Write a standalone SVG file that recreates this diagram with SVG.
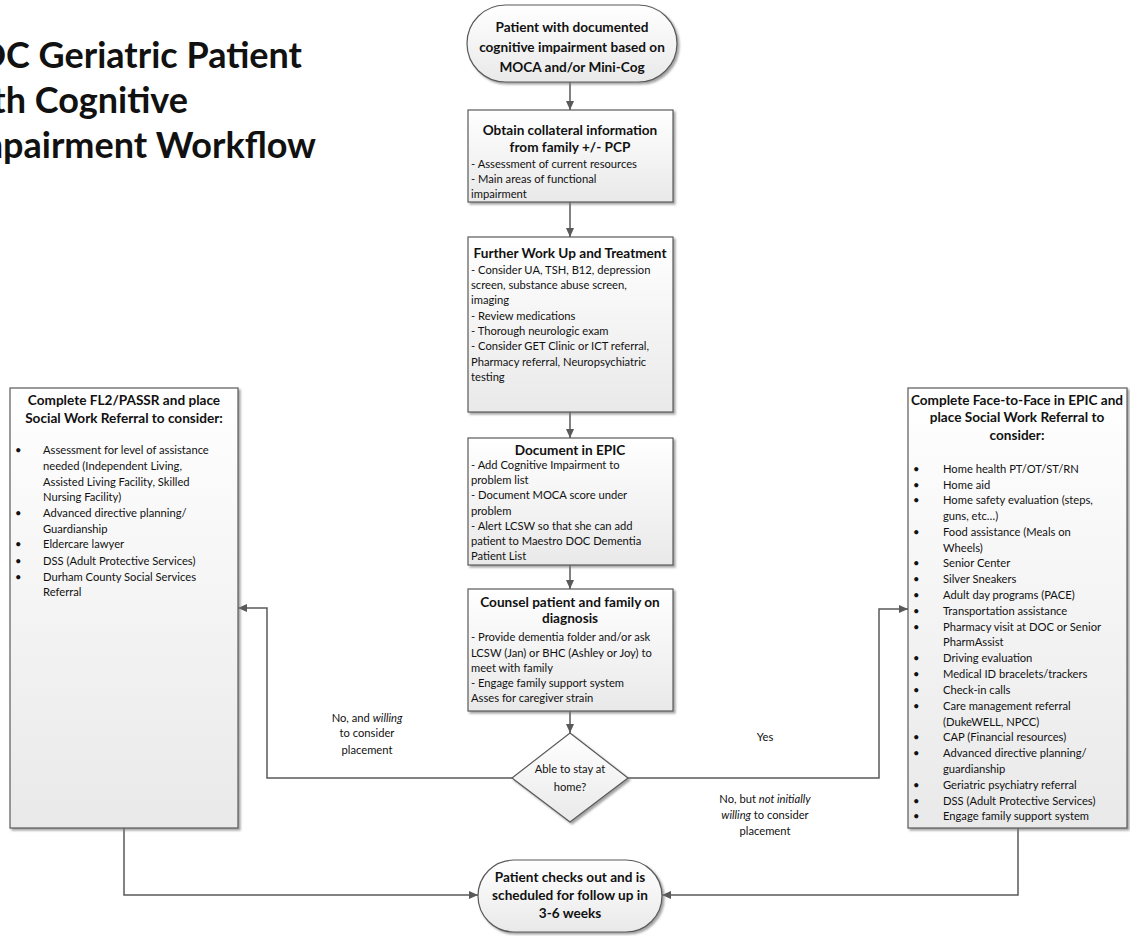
<svg xmlns="http://www.w3.org/2000/svg" width="1130" height="936" viewBox="0 0 1130 936">
<defs>
<linearGradient id="g" x1="0" y1="0" x2="0" y2="1">
<stop offset="0" stop-color="#ffffff"/>
<stop offset="1" stop-color="#e9e9e9"/>
</linearGradient>
<filter id="sh" x="-5%" y="-5%" width="115%" height="115%">
<feDropShadow dx="2" dy="2" stdDeviation="1" flood-color="#7a7a7a" flood-opacity="0.7"/>
</filter>
<marker id="ah" markerWidth="10" markerHeight="10" refX="9" refY="5" orient="auto" markerUnits="userSpaceOnUse">
<path d="M0,1 L9,5 L0,9 Z" fill="#595959"/>
</marker>
<style>
.shape{fill:url(#g);stroke:#5a5a5a;stroke-width:1.2;filter:url(#sh)}
.t{font-family:Lato,"Liberation Sans",sans-serif;fill:#111}
.h{font-size:13.6px;font-weight:bold;text-anchor:middle}
.b{font-size:11.2px}
.c{font-size:11.2px;text-anchor:middle}
.big{font-size:36px;font-weight:bold;text-anchor:end}
.con{fill:none;stroke:#595959;stroke-width:1.5}
.i{font-style:italic}
</style>
</defs>
<rect width="1130" height="936" fill="#ffffff"/>

<g id="title" class="t">
<text class="big t" x="302" y="68">DOC Geriatric Patient</text>
<text class="big t" x="188" y="113">with Cognitive</text>
<text class="big t" x="316" y="158">Impairment Workflow</text>
</g>

<g id="connectors">
<line class="con" x1="570" y1="82" x2="570" y2="110" marker-end="url(#ah)"/>
<line class="con" x1="570" y1="202" x2="570" y2="237" marker-end="url(#ah)"/>
<line class="con" x1="570" y1="412" x2="570" y2="438" marker-end="url(#ah)"/>
<line class="con" x1="570" y1="565" x2="570" y2="589" marker-end="url(#ah)"/>
<line class="con" x1="570" y1="711" x2="570" y2="733" marker-end="url(#ah)"/>
<polyline class="con" points="512,778 267,778 267,608 238,608" marker-end="url(#ah)"/>
<polyline class="con" points="628,778 879,778 879,609 908,609" marker-end="url(#ah)"/>
<polyline class="con" points="124,828 124,895 478,895" marker-end="url(#ah)"/>
<polyline class="con" points="1018,828 1018,895 662,895" marker-end="url(#ah)"/>
</g>

<g id="start">
<rect class="shape" x="467" y="5" width="210" height="77" rx="38.5"/>
<text class="t h" x="572" y="32">Patient with documented</text>
<text class="t h" x="572" y="52">cognitive impairment based on</text>
<text class="t h" x="572" y="72">MOCA and/or Mini-Cog</text>
</g>

<g id="collateral">
<rect class="shape" x="468" y="110" width="205" height="92"/>
<text class="t h" x="570" y="135">Obtain collateral information</text>
<text class="t h" x="570" y="152">from family +/- PCP</text>
<text class="t b" x="471" y="168">- Assessment of current resources</text>
<text class="t b" x="471" y="183">- Main areas of functional</text>
<text class="t b" x="471" y="198">impairment</text>
</g>

<g id="workup">
<rect class="shape" x="468" y="237" width="205" height="175"/>
<text class="t h" x="570" y="258">Further Work Up and Treatment</text>
<text class="t b" x="471" y="274">- Consider UA, TSH, B12, depression</text>
<text class="t b" x="471" y="289">screen, substance abuse screen,</text>
<text class="t b" x="471" y="304">imaging</text>
<text class="t b" x="471" y="320">- Review medications</text>
<text class="t b" x="471" y="335">- Thorough neurologic exam</text>
<text class="t b" x="471" y="350">- Consider GET Clinic or ICT referral,</text>
<text class="t b" x="471" y="366">Pharmacy referral, Neuropsychiatric</text>
<text class="t b" x="471" y="381">testing</text>
</g>

<g id="document">
<rect class="shape" x="468" y="438" width="205" height="127"/>
<text class="t h" x="570" y="455">Document in EPIC</text>
<text class="t b" x="471" y="469">- Add Cognitive Impairment to</text>
<text class="t b" x="471" y="484">problem list</text>
<text class="t b" x="471" y="499">- Document MOCA score under</text>
<text class="t b" x="471" y="515">problem</text>
<text class="t b" x="471" y="530">- Alert LCSW so that she can add</text>
<text class="t b" x="471" y="545">patient to Maestro DOC Dementia</text>
<text class="t b" x="471" y="560">Patient List</text>
</g>

<g id="counsel">
<rect class="shape" x="468" y="589" width="205" height="122"/>
<text class="t h" x="570" y="607">Counsel patient and family on</text>
<text class="t h" x="570" y="623">diagnosis</text>
<text class="t b" x="471" y="641">- Provide dementia folder and/or ask</text>
<text class="t b" x="471" y="657">LCSW (Jan) or BHC (Ashley or Joy) to</text>
<text class="t b" x="471" y="672">meet with family</text>
<text class="t b" x="471" y="687">- Engage family support system</text>
<text class="t b" x="471" y="702">Asses for caregiver strain</text>
</g>

<g id="decision">
<polygon class="shape" points="570,733 628,778 570,822 512,778"/>
<text class="t c" x="570" y="773">Able to stay at</text>
<text class="t c" x="570" y="791">home?</text>
</g>

<g id="labels">
<text class="t c" x="367" y="722">No, and <tspan class="i">willing</tspan></text>
<text class="t c" x="367" y="737">to consider</text>
<text class="t c" x="367" y="754">placement</text>
<text class="t c" x="765" y="741">Yes</text>
<text class="t c" x="765" y="803">No, but <tspan class="i">not initially</tspan></text>
<text class="t c" x="765" y="819"><tspan class="i">willing</tspan> to consider</text>
<text class="t c" x="765" y="835">placement</text>
</g>

<g id="placement">
<rect class="shape" x="10" y="388" width="228" height="440"/>
<text class="t h" x="124" y="405">Complete FL2/PASSR and place</text>
<text class="t h" x="124" y="423">Social Work Referral to consider:</text>
<g class="t b">
<text x="15" y="454">•</text><text x="43" y="454">Assessment for level of assistance</text>
<text x="43" y="470">needed (Independent Living,</text>
<text x="43" y="486">Assisted Living Facility, Skilled</text>
<text x="43" y="501">Nursing Facility)</text>
<text x="15" y="517">•</text><text x="43" y="517">Advanced directive planning/</text>
<text x="43" y="533">Guardianship</text>
<text x="15" y="548">•</text><text x="43" y="548">Eldercare lawyer</text>
<text x="15" y="565">•</text><text x="43" y="565">DSS (Adult Protective Services)</text>
<text x="15" y="581">•</text><text x="43" y="581">Durham County Social Services</text>
<text x="43" y="596">Referral</text>
</g>
</g>

<g id="home">
<rect class="shape" x="908" y="388" width="219" height="440"/>
<text class="t h" x="1017" y="405">Complete Face-to-Face in EPIC and</text>
<text class="t h" x="1017" y="422">place Social Work Referral to</text>
<text class="t h" x="1017" y="440">consider:</text>
<g class="t b">
<text x="913" y="473">•</text><text x="943" y="473">Home health PT/OT/ST/RN</text>
<text x="913" y="489">•</text><text x="943" y="489">Home aid</text>
<text x="913" y="504">•</text><text x="943" y="504">Home safety evaluation (steps,</text>
<text x="943" y="520">guns, etc…)</text>
<text x="913" y="536">•</text><text x="943" y="536">Food assistance (Meals on</text>
<text x="943" y="552">Wheels)</text>
<text x="913" y="567">•</text><text x="943" y="567">Senior Center</text>
<text x="913" y="583">•</text><text x="943" y="583">Silver Sneakers</text>
<text x="913" y="599">•</text><text x="943" y="599">Adult day programs (PACE)</text>
<text x="913" y="615">•</text><text x="943" y="615">Transportation assistance</text>
<text x="913" y="631">•</text><text x="943" y="631">Pharmacy visit at DOC or Senior</text>
<text x="943" y="646">PharmAssist</text>
<text x="913" y="662">•</text><text x="943" y="662">Driving evaluation</text>
<text x="913" y="678">•</text><text x="943" y="678">Medical ID bracelets/trackers</text>
<text x="913" y="694">•</text><text x="943" y="694">Check-in calls</text>
<text x="913" y="710">•</text><text x="943" y="710">Care management referral</text>
<text x="943" y="726">(DukeWELL, NPCC)</text>
<text x="913" y="741">•</text><text x="943" y="741">CAP (Financial resources)</text>
<text x="913" y="757">•</text><text x="943" y="757">Advanced directive planning/</text>
<text x="943" y="773">guardianship</text>
<text x="913" y="789">•</text><text x="943" y="789">Geriatric psychiatry referral</text>
<text x="913" y="805">•</text><text x="943" y="805">DSS (Adult Protective Services)</text>
<text x="913" y="820">•</text><text x="943" y="820">Engage family support system</text>
</g>
</g>

<g id="end">
<rect class="shape" x="478" y="860" width="184" height="72" rx="36"/>
<text class="t h" x="570" y="882">Patient checks out and is</text>
<text class="t h" x="570" y="900">scheduled for follow up in</text>
<text class="t h" x="570" y="918">3-6 weeks</text>
</g>
</svg>
